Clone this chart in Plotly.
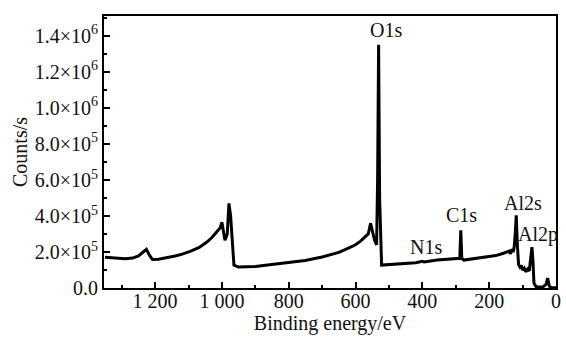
import plotly.graph_objects as go

# Binding energy (eV) and counts
energy = [1350, 1320, 1290, 1267, 1250, 1240, 1226, 1217, 1208, 1190, 1166, 1140, 1119,
          1095, 1068, 1045, 1030, 1020, 1012, 1005, 1000, 991, 984, 979, 974, 970, 964,
          950, 900, 851, 800, 751, 700, 682, 650, 623, 600, 585, 573, 562, 555, 549, 543,
          537, 534, 531, 528, 522, 475, 420, 400, 395, 356, 306, 288, 285, 282,
          276, 208, 180, 157, 140, 136, 132, 128, 125, 122, 119, 116, 112, 108,
          104, 100, 95, 90, 85, 80, 76, 72, 69, 66, 59, 40, 30, 25, 20, 15, 0]
counts = [171e3, 165e3, 163e3, 166e3, 178e3, 193e3, 215e3, 182e3, 158e3, 160e3, 168e3, 178e3, 188e3,
          203e3, 225e3, 255e3, 280e3, 300e3, 318e3, 335e3, 365e3, 265e3, 300e3, 470e3, 400e3, 300e3, 127e3,
          116e3, 120e3, 130e3, 140e3, 153e3, 172e3, 180e3, 198e3, 220e3, 240e3, 260e3, 280e3, 300e3, 359e3, 310e3, 265e3,
          240e3, 600e3, 1350e3, 500e3, 127e3, 133e3, 140e3, 148e3, 145e3, 155e3, 160e3, 165e3, 320e3, 165e3,
          155e3, 171e3, 180e3, 193e3, 205e3, 190e3, 215e3, 200e3, 230e3, 300e3, 403e3, 250e3, 130e3, 116e3,
          125e3, 100e3, 110e3, 90e3, 105e3, 95e3, 150e3, 227e3, 150e3, 28e3, 5e3, 5e3, 20e3, 55e3, 10e3, 3e3, 2e3]

x_tickvals = [1200, 1000, 800, 600, 400, 200, 0]
x_ticktext = ["1 200", "1 000", "800", "600", "400", "200", "0"]
y_tickvals = [0, 2e5, 4e5, 6e5, 8e5, 1.0e6, 1.2e6, 1.4e6]
y_ticktext = ["0.0", "2.0×10<sup>5</sup>", "4.0×10<sup>5</sup>", "6.0×10<sup>5</sup>",
              "8.0×10<sup>5</sup>", "1.0×10<sup>6</sup>", "1.2×10<sup>6</sup>", "1.4×10<sup>6</sup>"]

peak_labels = ["O1s", "C1s", "N1s", "Al2s", "Al2p"]
label_x = [510, 282, 389, 98, 53]
label_y = [1.431e6, 403e3, 226e3, 470e3, 298e3]

FONT = "Liberation Serif, Times New Roman, serif"

fig = go.Figure()
fig.add_trace(go.Scatter(x=energy, y=counts, mode="lines",
                         line=dict(color="black", width=3), showlegend=False))

for t, xx, yy in zip(peak_labels, label_x, label_y):
    fig.add_annotation(x=xx, y=yy, text=t, showarrow=False, xref="x", yref="y",
                       font=dict(family=FONT, size=20, color="#111"))

fig.update_layout(
    width=566, height=338,
    margin=dict(l=104, r=5, t=16, b=50),
    paper_bgcolor="white", plot_bgcolor="white",
    font=dict(family=FONT, size=20, color="#111"),
)
fig.update_xaxes(range=[1353, 0], tickvals=x_tickvals, ticktext=x_ticktext,
                 showline=True, linecolor="black", linewidth=2, mirror=True,
                 ticks="inside", ticklen=6, tickwidth=1.5, tickcolor="black",
                 ticklabelstandoff=-6, tickfont=dict(size=20),
                 minor=dict(dtick=100, tick0=0, ticks="inside", ticklen=3, tickcolor="black"),
                 showgrid=False, zeroline=False,
                 title=dict(text="Binding energy/eV", standoff=0, font=dict(size=20)))
fig.update_yaxes(range=[0, 1.51e6], tickvals=y_tickvals, ticktext=y_ticktext,
                 showline=True, linecolor="black", linewidth=2, mirror=True,
                 ticks="inside", ticklen=6, tickwidth=1.5, tickcolor="black",
                 tickfont=dict(size=20),
                 minor=dict(dtick=1e5, tick0=0, ticks="inside", ticklen=3, tickcolor="black"),
                 showgrid=False, zeroline=False,
                 title=dict(text="Counts/s", standoff=2, font=dict(size=20)))

fig.write_html("out.html")
